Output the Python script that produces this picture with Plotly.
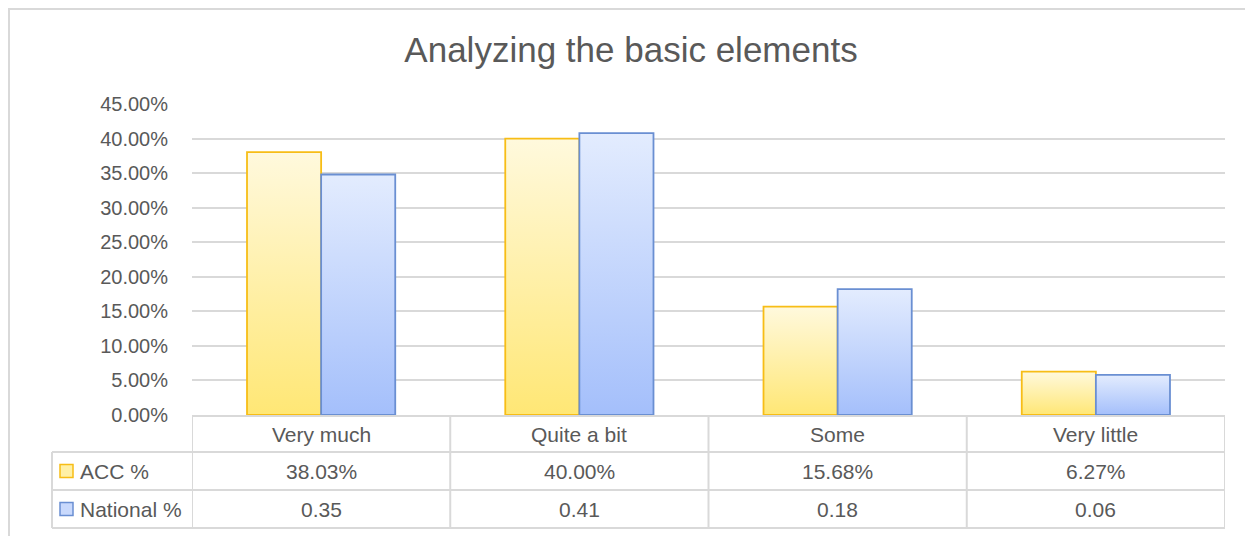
import plotly.graph_objects as go

# ---------------- data ----------------
categories = ["Very much", "Quite a bit", "Some", "Very little"]
series_names = ["ACC %", "National %"]
acc_values = [0.3803, 0.4000, 0.1568, 0.0627]
national_values = [0.348, 0.408, 0.182, 0.058]
y_tick_values = [0.00, 0.05, 0.10, 0.15, 0.20, 0.25, 0.30, 0.35, 0.40, 0.45]
title_text = "Analyzing the basic elements"

# ---------------- layout constants (page pixels) ----------------
OFF = 8                      # default page body margin
W, H = 1253 - OFF, 536 - OFF
PL, PR, PT, PB = 192, 1225, 104, 415
FONT = "Liberation Sans"
TXT = "#595959"
GRID = "#d9d9d9"

def px(x):
    return (x - PL) / (PR - PL)

def py(y):
    return (PB - y) / (PB - PT)

styles = [
    dict(top="#fff9dd", bottom="#ffe775", line="#f7bd16", key="#fff0a6"),
    dict(top="#e3ecfe", bottom="#a4bffb", line="#6a8fd2", key="#c9d9fc"),
]
bar_w = 0.287

fig = go.Figure()

for s, vals in enumerate([acc_values, national_values]):
    st = styles[s]
    for i, v in enumerate(vals):
        x0 = i - bar_w if s == 0 else i
        x1 = x0 + bar_w
        fig.add_trace(go.Scatter(
            x=[x0, x0, x1, x1, x0], y=[0, v, v, 0, 0],
            mode="lines", fill="toself",
            fillgradient=dict(type="vertical", start=0, stop=v,
                              colorscale=[[0, st["bottom"]], [1, st["top"]]]),
            line=dict(color=st["line"], width=1.8),
            name=series_names[s], showlegend=False,
            hovertemplate=f"{series_names[s]}<br>{categories[i]}: {v:.2%}<extra></extra>",
        ))

shapes = []
line_style = dict(color=GRID, width=2)
shapes.append(dict(type="line", xref="paper", yref="paper", x0=0, x1=1, y0=py(416), y1=py(416), line=line_style))
for yy in [452, 490, 528]:
    shapes.append(dict(type="line", xref="paper", yref="paper", x0=px(52), x1=1, y0=py(yy), y1=py(yy), line=line_style))
for b in [-0.5, 0.5, 1.5, 2.5, 3.5]:
    shapes.append(dict(type="line", xref="x", yref="paper", x0=b, x1=b, y0=py(416), y1=py(528), line=line_style))
shapes.append(dict(type="line", xref="paper", yref="paper", x0=px(52), x1=px(52), y0=py(452), y1=py(528), line=line_style))
row_centers = [471, 509]
for s in range(2):
    c = row_centers[s]
    shapes.append(dict(type="rect", xref="paper", yref="paper",
                       x0=px(60), x1=px(73), y0=py(c - 6.5), y1=py(c + 6.5),
                       fillcolor=styles[s]["key"], line=dict(color=styles[s]["line"], width=1.5)))
shapes.append(dict(type="rect", xref="paper", yref="paper", x0=px(9), x1=px(1262), y0=py(9), y1=py(545),
                   line=dict(color=GRID, width=2), fillcolor="rgba(0,0,0,0)", layer="below"))

annotations = []
for i, c in enumerate(categories):
    annotations.append(dict(x=i, y=py(434), xref="x", yref="paper", text=c, showarrow=False,
                            xanchor="center", yanchor="middle", font=dict(family=FONT, size=21, color=TXT)))
    annotations.append(dict(x=i, y=py(471), xref="x", yref="paper", text=f"{acc_values[i]:.2%}", showarrow=False,
                            xanchor="center", yanchor="middle", font=dict(family=FONT, size=21, color=TXT)))
    annotations.append(dict(x=i, y=py(509), xref="x", yref="paper", text=f"{national_values[i]:.2f}", showarrow=False,
                            xanchor="center", yanchor="middle", font=dict(family=FONT, size=21, color=TXT)))
for s in range(2):
    annotations.append(dict(x=px(78), y=py(row_centers[s]), xref="paper", yref="paper", text=series_names[s],
                            showarrow=False, xanchor="left", yanchor="middle",
                            font=dict(family=FONT, size=21, color=TXT)))

fig.update_layout(
    width=W, height=H, autosize=False,
    margin=dict(l=PL - OFF, r=1253 - PR, t=PT - OFF, b=536 - PB, pad=0),
    paper_bgcolor="white", plot_bgcolor="white",
    title=dict(text=title_text, x=(631 - OFF) / W, xref="container", xanchor="center",
               y=1 - (50 - OFF) / H, yref="container", yanchor="middle",
               font=dict(family=FONT, size=35, color=TXT)),
    xaxis=dict(range=[-0.5, 3.5], showgrid=False, zeroline=False, showticklabels=False,
               showline=False, fixedrange=True),
    yaxis=dict(range=[0, 0.45], tickvals=y_tick_values, tickformat=".2%", showgrid=True,
               gridcolor=GRID, gridwidth=2, zeroline=False, showline=False, ticks="",
               ticklabelstandoff=23, tickfont=dict(family=FONT, size=20, color=TXT), fixedrange=True),
    shapes=shapes, annotations=annotations, showlegend=False,
)

fig.write_html("out.html")
